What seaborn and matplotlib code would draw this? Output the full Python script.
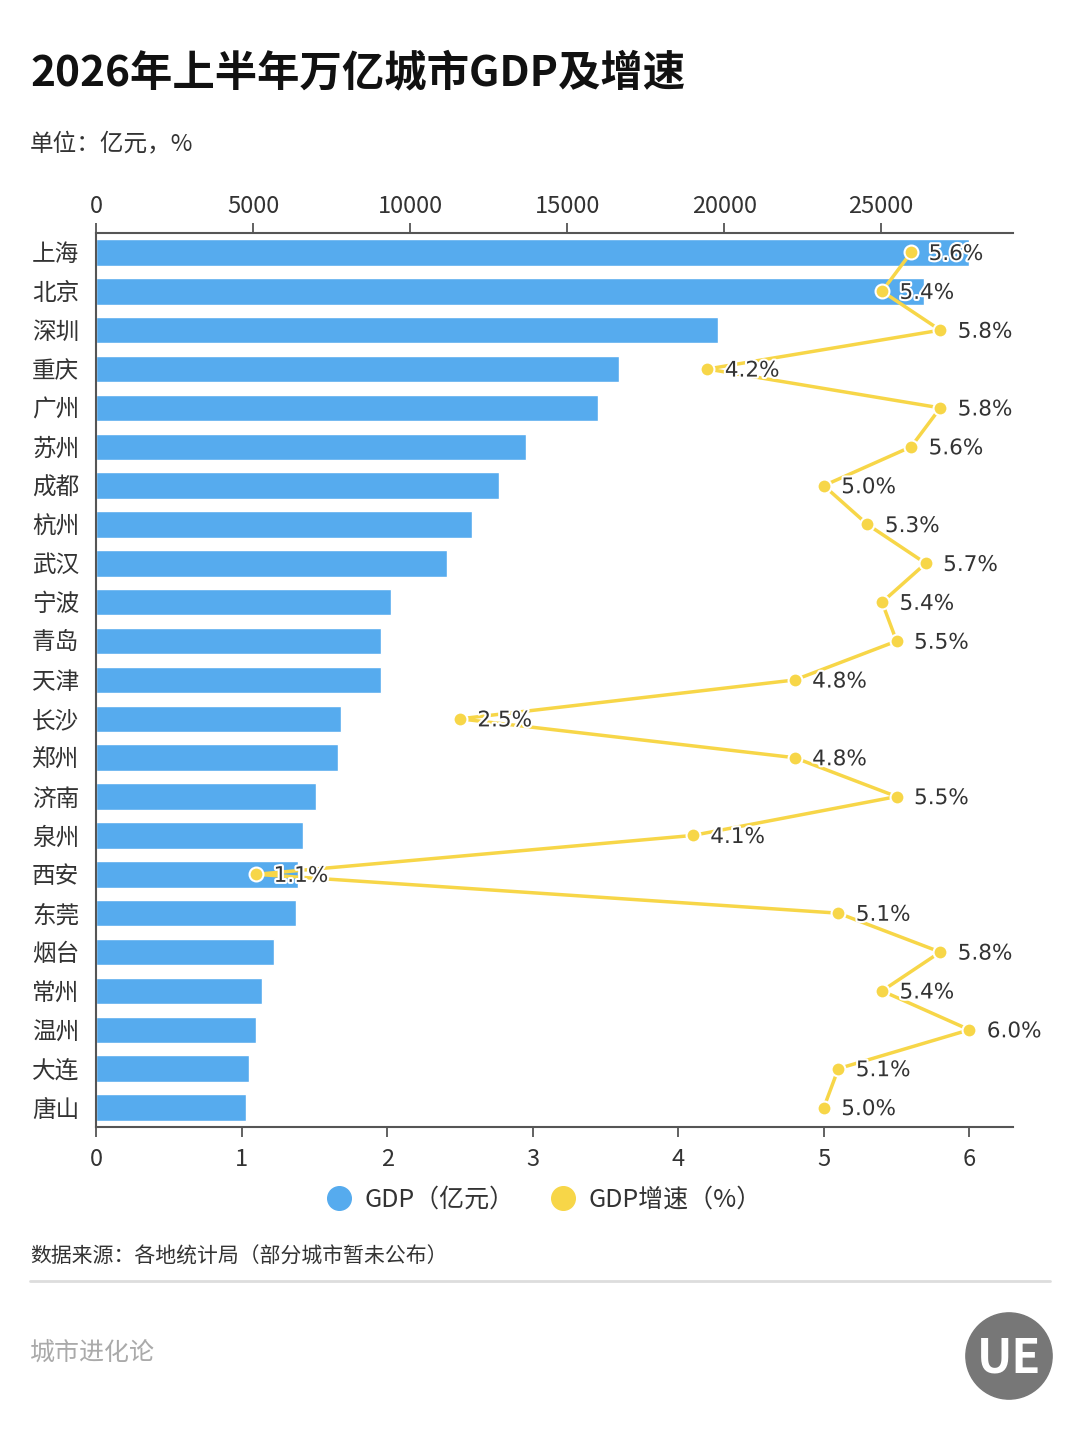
import numpy as np
import pandas as pd
import matplotlib.pyplot as plt
import matplotlib.patheffects as pe
from matplotlib.lines import Line2D
import seaborn as sns

# data
cities = ['上海', '北京', '深圳', '重庆', '广州', '苏州', '成都', '杭州', '武汉', '宁波', '青岛', '天津',
          '长沙', '郑州', '济南', '泉州', '西安', '东莞', '烟台', '常州', '温州', '大连', '唐山']
gdp = [27800, 26350, 19800, 16650, 15990, 13690, 12830, 11970, 11180, 9390, 9080, 9080,
       7800, 7710, 7010, 6590, 6430, 6370, 5670, 5290, 5100, 4870, 4780]
growth = [5.6, 5.4, 5.8, 4.2, 5.8, 5.6, 5.0, 5.3, 5.7, 5.4, 5.5, 4.8,
          2.5, 4.8, 5.5, 4.1, 1.1, 5.1, 5.8, 5.4, 6.0, 5.1, 5.0]
gdp_ticks = [0, 5000, 10000, 15000, 20000, 25000]
growth_ticks = [0, 1, 2, 3, 4, 5, 6]

blue = '#56ABEE'
yellow = '#F7D648'
dark = '#333333'

sns.set_style('white')
plt.rcParams['font.family'] = ['Noto Sans CJK SC', 'DejaVu Sans']

fig = plt.figure(figsize=(10.8, 14.4), dpi=100)
ax = fig.add_axes([0.0889, 0.2174, 0.938 - 0.0889, 0.8382 - 0.2174])

df = pd.DataFrame({'city': cities, 'gdp': gdp, 'growth': growth, 'pos': np.arange(len(cities))})

sns.barplot(data=df, x='gdp', y='city', orient='h', color=blue, saturation=1, width=0.68, ax=ax)
ax.set_xlabel('')
ax.set_ylabel('')

# growth line on a twin axis
ax2 = ax.twiny()
sns.lineplot(data=df, x='growth', y='pos', sort=False, estimator=None, orient='y',
             color=yellow, linewidth=2.5, marker='o', markersize=10,
             markeredgecolor='white', markeredgewidth=1.5, ax=ax2)
ax2.set_xlim(0, 6.3)
ax2.set_xticks(growth_ticks)
ax2.xaxis.tick_bottom()
ax2.xaxis.set_label_position('bottom')
ax2.set_xlabel('')
ax2.set_ylabel('')
ax2.tick_params(axis='x', labelsize=17, colors=dark, length=7, width=1.3, pad=8, color='#555555')
for s in ['right', 'top', 'left']:
    ax2.spines[s].set_visible(False)
ax2.spines['bottom'].set_color('#555555')
ax2.spines['bottom'].set_linewidth(1.5)

# GDP axis on top (after twiny, which resets it)
ax.xaxis.tick_top()
ax.set_xlim(0, 29200)
ax.set_xticks(gdp_ticks)
ax.tick_params(axis='x', labelsize=17, colors=dark, length=7, width=1.3, pad=4, color='#555555')
ax.tick_params(axis='y', labelsize=17, colors=dark, length=6, width=1.3, pad=6, color='#555555')
for s in ['right', 'bottom']:
    ax.spines[s].set_visible(False)
for s in ['top', 'left']:
    ax.spines[s].set_color('#555555')
    ax.spines[s].set_linewidth(1.5)
ax.set_ylim(len(cities) - 0.5, -0.5)

for i, g in enumerate(growth):
    ax2.text(g + 0.12, i + 0.04, f'{g:.1f}%', va='center', ha='left', fontsize=15.5,
             color=dark, family='DejaVu Sans',
             path_effects=[pe.withStroke(linewidth=3, foreground='white')])

# titles
fig.text(30 / 1080, 1 - 73 / 1440, '2026年上半年万亿城市GDP及增速', fontsize=30.5,
         fontweight='bold', color='#111111', va='center', ha='left')
fig.text(30 / 1080, 1 - 145 / 1440, '单位：亿元，%', fontsize=17, color=dark, va='center', ha='left')

# legend
handles = [Line2D([], [], linestyle='none', marker='o', markersize=17, color=blue),
           Line2D([], [], linestyle='none', marker='o', markersize=17, color=yellow)]
fig.legend(handles, ['GDP（亿元）', 'GDP增速（%）'], loc='center', bbox_to_anchor=(0.498, 1 - 1200 / 1440),
           ncol=2, frameon=False, fontsize=18, handletextpad=0.05, columnspacing=0.9,
           labelcolor=dark)

# footer
fig.text(30 / 1080, 1 - 1257 / 1440, '数据来源：各地统计局（部分城市暂未公布）', fontsize=15,
         color=dark, va='center', ha='left')
fig.add_artist(Line2D([30 / 1080, 1050 / 1080], [1 - 1281 / 1440] * 2, color='#dddddd', linewidth=2))
fig.text(30 / 1080, 1 - 1353 / 1440, '城市进化论', fontsize=18, color='#aaaaaa', va='center', ha='left')

# logo
logo = fig.add_axes([965 / 1080, 1 - 1400 / 1440, 88 / 1080, 88 / 1440])
logo.set_xlim(-1, 1)
logo.set_ylim(-1, 1)
logo.set_aspect('equal')
logo.axis('off')
logo.add_patch(plt.Circle((0, 0), 0.98, color='#777777'))
logo.text(0, -0.05, 'UE', fontsize=34, fontweight='bold', color='white', ha='center', va='center')

fig.savefig('out.png', dpi=100)
